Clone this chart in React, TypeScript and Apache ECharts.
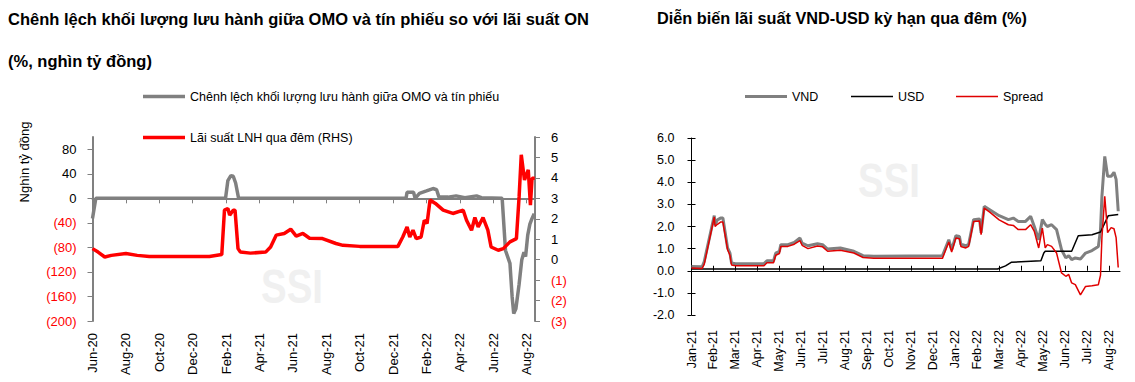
import React, { useEffect, useRef } from 'react';
import * as echarts from 'echarts';

const FONT = '"Liberation Sans", Arial, sans-serif';

// ---------- Left chart data ----------
const leftTickLabels = ['Jun-20', 'Aug-20', 'Oct-20', 'Dec-20', 'Feb-21', 'Apr-21', 'Jun-21', 'Aug-21', 'Oct-21', 'Dec-21', 'Feb-22', 'Apr-22', 'Jun-22', 'Aug-22'];
const OMO_NAME = 'Chênh lệch khối lượng lưu hành giữa OMO và tín phiếu';
const ON_NAME = 'Lãi suất LNH qua đêm (RHS)';

const omoDates = ['2020-06-01', '2020-06-07', '2021-01-31', '2021-02-04', '2021-02-09', '2021-02-13', '2021-02-17', '2021-02-22', '2021-12-25', '2021-12-27', '2022-01-08', '2022-01-11', '2022-01-19', '2022-02-01', '2022-02-12', '2022-02-18', '2022-02-22', '2022-03-10', '2022-03-25', '2022-04-10', '2022-05-01', '2022-05-10', '2022-06-17', '2022-06-23', '2022-07-01', '2022-07-05', '2022-07-08', '2022-07-12', '2022-07-18', '2022-07-23', '2022-07-27', '2022-07-30', '2022-08-03', '2022-08-07', '2022-08-10', '2022-08-15'];
const omoValues = [-33, 0, 0, 29, 37, 36, 25, 0, 0, 10, 10, 0, 8, 12, 16, 14, 2, 2, 4, 1, 4, 1, 0, -85, -106, -160, -188, -180, -140, -100, -88, -95, -60, -42, -35, -25];

const onDates = ['2020-06-01', '2020-06-11', '2020-06-23', '2020-07-05', '2020-08-01', '2020-08-22', '2020-09-13', '2020-11-01', '2021-01-01', '2021-01-24', '2021-01-29', '2021-02-04', '2021-02-07', '2021-02-13', '2021-02-16', '2021-02-21', '2021-02-25', '2021-03-15', '2021-04-12', '2021-04-21', '2021-05-01', '2021-05-16', '2021-05-28', '2021-06-07', '2021-06-19', '2021-07-01', '2021-07-25', '2021-08-19', '2021-09-01', '2021-10-01', '2021-12-10', '2021-12-19', '2021-12-27', '2022-01-01', '2022-01-07', '2022-01-13', '2022-01-22', '2022-01-28', '2022-02-02', '2022-02-07', '2022-02-16', '2022-03-01', '2022-03-19', '2022-04-07', '2022-04-13', '2022-04-22', '2022-04-28', '2022-05-04', '2022-05-13', '2022-05-22', '2022-05-28', '2022-06-10', '2022-06-19', '2022-07-01', '2022-07-13', '2022-07-18', '2022-07-22', '2022-07-28', '2022-08-04', '2022-08-08', '2022-08-11', '2022-08-16'];
const onValues = [0.54, 0.37, 0.13, 0.21, 0.3, 0.21, 0.16, 0.15, 0.16, 0.25, 2.42, 2.5, 2.18, 2.42, 2.42, 0.54, 0.37, 0.32, 0.37, 0.62, 1.2, 1.28, 1.49, 1.15, 1.28, 1.05, 1.03, 0.79, 0.7, 0.65, 0.65, 1.11, 1.6, 1.11, 1.44, 1.03, 1.11, 1.93, 1.77, 2.92, 2.75, 2.42, 2.26, 2.42, 1.93, 1.44, 2.06, 1.6, 2.06, 1.44, 0.62, 0.46, 0.54, 0.87, 1.03, 3.08, 5.13, 3.9, 4.39, 2.67, 3.98, 3.98];

// ---------- Right chart data ----------
const rightTickLabels = ['Jan-21', 'Feb-21', 'Mar-21', 'Apr-21', 'May-21', 'Jun-21', 'Jul-21', 'Aug-21', 'Sep-21', 'Oct-21', 'Nov-21', 'Dec-21', 'Jan-22', 'Feb-22', 'Mar-22', 'Apr-22', 'May-22', 'Jun-22', 'Jul-22', 'Aug-22'];

const rateDates = ['2021-01-01', '2021-01-16', '2021-01-19', '2021-02-02', '2021-02-03', '2021-02-06', '2021-02-10', '2021-02-13', '2021-02-19', '2021-02-22', '2021-02-24', '2021-03-01', '2021-04-10', '2021-04-14', '2021-04-23', '2021-04-26', '2021-05-01', '2021-05-03', '2021-05-13', '2021-05-22', '2021-05-30', '2021-06-02', '2021-06-10', '2021-06-23', '2021-06-30', '2021-07-07', '2021-07-25', '2021-08-13', '2021-08-26', '2021-09-10', '2021-12-14', '2021-12-23', '2021-12-27', '2022-01-02', '2022-01-07', '2022-01-09', '2022-01-16', '2022-01-20', '2022-01-27', '2022-02-04', '2022-02-06', '2022-02-10', '2022-02-17', '2022-03-01', '2022-03-14', '2022-03-21', '2022-03-28', '2022-04-07', '2022-04-14', '2022-04-19', '2022-04-25', '2022-04-30', '2022-05-04', '2022-05-07', '2022-05-13', '2022-05-20', '2022-05-27', '2022-06-02', '2022-06-06', '2022-06-10', '2022-06-15', '2022-06-22', '2022-06-29', '2022-07-08', '2022-07-17', '2022-07-20', '2022-07-22', '2022-07-26', '2022-07-30', '2022-08-04', '2022-08-08', '2022-08-11', '2022-08-14'];
const vndValues = [0.19, 0.18, 0.42, 2.49, 2.08, 2.3, 2.38, 2.38, 1.03, 0.8, 0.35, 0.32, 0.32, 0.45, 0.45, 0.8, 0.88, 1.18, 1.18, 1.28, 1.48, 1.25, 1.13, 1.22, 1.18, 0.98, 1.03, 0.88, 0.68, 0.65, 0.68, 1.4, 0.95, 1.58, 1.55, 1.2, 1.13, 1.2, 2.31, 2.34, 1.71, 2.91, 2.76, 2.49, 2.31, 2.38, 2.23, 2.23, 2.46, 2.0, 1.4, 2.31, 2.1, 2.0, 2.08, 1.86, 0.95, 0.58, 0.68, 0.5, 0.58, 0.53, 0.8, 0.91, 1.1, 1.86, 3.36, 5.17, 4.27, 4.27, 4.45, 4.13, 2.69];
const spreadValues = [0.12, 0.1, 0.3, 2.43, 2.0, 2.1, 2.2, 2.2, 0.95, 0.7, 0.26, 0.23, 0.23, 0.36, 0.36, 0.7, 0.78, 1.1, 1.1, 1.2, 1.36, 1.15, 1.0, 1.12, 1.08, 0.88, 0.93, 0.8, 0.6, 0.56, 0.56, 1.3, 0.85, 1.48, 1.45, 1.1, 1.03, 1.1, 2.23, 2.25, 1.63, 2.83, 2.65, 2.3, 2.08, 2.05, 1.86, 1.86, 2.08, 1.78, 1.03, 1.93, 1.03, 1.18, 1.1, 0.8, -0.1, -0.25, -0.17, -0.55, -0.63, -1.09, -0.71, -0.68, -0.63, -0.2, 1.5, 3.36, 1.72, 1.95, 1.9, 1.5, 0.15];

const usdDates = ['2021-01-01', '2022-02-27', '2022-03-10', '2022-03-18', '2022-04-28', '2022-05-02', '2022-05-04', '2022-06-10', '2022-06-19', '2022-07-08', '2022-07-20', '2022-07-31', '2022-08-14'];
const usdValues = [0.08, 0.08, 0.22, 0.38, 0.45, 0.8, 0.88, 0.88, 1.58, 1.63, 1.75, 2.49, 2.54];

// month offset from a base month (fractional)
function monthOffset(date: string, baseYear: number, baseMonth: number): number {
  const [y, m, d] = date.split('-').map(Number);
  const dim = new Date(y, m, 0).getDate();
  return (y - baseYear) * 12 + (m - baseMonth) + (d - 1) / dim;
}
function pairs(dates: string[], values: number[], by: number, bm: number) {
  return dates.map((d, i) => [monthOffset(d, by, bm), values[i]]);
}

const GRAY = '#808080';
const RED = '#ff0000';
const RED2 = '#e00000';

const paren = (v: number) => (v < 0 ? `(${-v})` : `${v}`);
const negColor = (v: any) => (Number(v) < 0 ? RED : '#000000');

function range(a: number, b: number, step: number) {
  const out: number[] = [];
  for (let v = a; v <= b + 1e-9; v += step) out.push(v);
  return out;
}

function legendItem(name: string, left: number, top: number, h: number) {
  return {
    data: [name], left, top, padding: 0, icon: 'rect', itemWidth: 42, itemHeight: h,
    textStyle: { fontFamily: FONT, fontSize: 12.5, color: '#000' },
  };
}

export default function App() {
  const ref = useRef<HTMLDivElement>(null);
  useEffect(() => {
    if (!ref.current) return;
    const chart = echarts.init(ref.current, undefined, { renderer: 'svg' });
    const lbl = { fontFamily: FONT, fontSize: 12.5 };
    const titleStyle = { fontFamily: FONT, fontSize: 16.5, fontWeight: 'bold', color: '#000' };
    const option: any = {
      animation: false,
      textStyle: { fontFamily: FONT },
      title: [
        { text: 'Chênh lệch khối lượng lưu hành giữa OMO và tín phiếu so với lãi suất ON', left: 8, top: 10, padding: 0, textStyle: titleStyle },
        { text: '(%, nghìn tỷ đồng)', left: 8, top: 52, padding: 0, textStyle: titleStyle },
        { text: 'Diễn biến lãi suất VND-USD kỳ hạn qua đêm (%)', left: 657, top: 10, padding: 0, textStyle: { ...titleStyle, fontSize: 16.3 } },
      ],
      legend: [
        legendItem(OMO_NAME, 143, 90, 3.5),
        legendItem(ON_NAME, 143, 131, 3.5),
        legendItem('VND', 745, 90, 3),
        legendItem('USD', 851, 90, 1.5),
        legendItem('Spread', 956, 90, 1.5),
      ],
      grid: [
        { left: 92.5, top: 137, width: 442.5, height: 184, containLabel: false, outerBoundsMode: 'none' },
        { left: 691.5, top: 138, width: 428.5, height: 177, containLabel: false, outerBoundsMode: 'none' },
      ],
      xAxis: [
        {
          gridIndex: 0, type: 'value', min: 0, max: 26.5, interval: 2, position: 'bottom',
          axisLine: { show: false, onZero: false }, axisTick: { show: false }, splitLine: { show: false },
          axisLabel: {
            ...lbl, fontSize: 13, color: '#000', rotate: 90, margin: 12,
            formatter: (v: number) => { const i = Math.round(v / 2); return Math.abs(v - i * 2) < 1e-6 ? (leftTickLabels[i] ?? '') : ''; },
          },
        },
        {
          gridIndex: 0, type: 'value', min: 0, max: 26.5, interval: 2, position: 'bottom',
          axisLine: { show: true, onZero: true, onZeroAxisIndex: 0, lineStyle: { color: GRAY, width: 2 } },
          axisTick: { show: true, length: 5, lineStyle: { color: GRAY, width: 1 }, customValues: range(0, 26, 2) },
          axisLabel: { show: false }, splitLine: { show: false },
        },
        {
          gridIndex: 1, type: 'value', min: 0, max: 19.5, interval: 1, position: 'bottom',
          axisLine: { show: false, onZero: false }, axisTick: { show: false }, splitLine: { show: false },
          axisLabel: {
            ...lbl, fontSize: 12.5, color: '#000', rotate: 90, margin: 15,
            formatter: (v: number) => { const i = Math.round(v); return Math.abs(v - i) < 1e-6 ? (rightTickLabels[i] ?? '') : ''; },
          },
        },
        {
          gridIndex: 1, type: 'value', min: 0, max: 19.5, interval: 1, position: 'bottom',
          axisLine: { show: true, onZero: true, onZeroAxisIndex: 2, lineStyle: { color: '#000', width: 1 } },
          axisTick: { show: true, inside: true, length: 5, lineStyle: { color: '#000', width: 1 }, customValues: range(0, 19, 1) },
          axisLabel: { show: false }, splitLine: { show: false },
        },
      ],
      yAxis: [
        {
          gridIndex: 0, type: 'value', min: -200, max: 100, interval: 40, position: 'left',
          axisLine: { show: true, onZero: false, lineStyle: { color: GRAY, width: 2 } },
          axisTick: { show: true, length: 5, lineStyle: { color: GRAY }, customValues: range(-200, 80, 40) },
          splitLine: { show: false },
          axisLabel: { ...lbl, fontSize: 13, margin: 16, color: negColor, formatter: (v: number) => (v > 80 ? '' : paren(v)) },
        },
        {
          gridIndex: 0, type: 'value', min: -3, max: 6, interval: 1, position: 'right',
          axisLine: { show: true, onZero: false, lineStyle: { color: GRAY, width: 2 } },
          axisTick: { show: true, length: 5, lineStyle: { color: GRAY } },
          splitLine: { show: false },
          axisLabel: { ...lbl, fontSize: 13, margin: 16, color: negColor, formatter: (v: number) => paren(v) },
        },
        {
          gridIndex: 1, type: 'value', min: -2, max: 6, interval: 1, position: 'left',
          axisLine: { show: true, onZero: false, lineStyle: { color: '#000', width: 1 } },
          axisTick: { show: true, length: 4, lineStyle: { color: '#000' } },
          splitLine: { show: false },
          axisLabel: { ...lbl, margin: 17, color: '#000', formatter: (v: number) => v.toFixed(1) },
        },
        {
          gridIndex: 1, type: 'value', min: -2, max: 6, interval: 1, position: 'left',
          axisLine: { show: false, onZero: false },
          axisTick: { show: true, inside: true, length: 4, lineStyle: { color: '#000' } },
          splitLine: { show: false }, axisLabel: { show: false },
        },
      ],
      graphic: [
        { type: 'text', x: 292, y: 286, scaleX: 0.8, z: -10, style: { text: 'SSI', fill: '#f0f0f0', font: `bold 48px ${FONT}`, textAlign: 'center', textVerticalAlign: 'middle' } },
        { type: 'text', x: 889, y: 180, scaleX: 0.8, z: -10, style: { text: 'SSI', fill: '#f0f0f0', font: `bold 48px ${FONT}`, textAlign: 'center', textVerticalAlign: 'middle' } },
        { type: 'text', x: 24, y: 162, rotation: Math.PI / 2, style: { text: 'Nghìn tỷ đồng', fill: '#000', font: `13px ${FONT}`, textAlign: 'center', textVerticalAlign: 'middle' } },
      ],
      series: [
        { name: OMO_NAME, type: 'line', xAxisIndex: 0, yAxisIndex: 0, symbol: 'none', data: pairs(omoDates, omoValues, 2020, 6), lineStyle: { color: GRAY, width: 3.5 }, itemStyle: { color: GRAY }, z: 3 },
        { name: ON_NAME, type: 'line', xAxisIndex: 0, yAxisIndex: 1, symbol: 'none', data: pairs(onDates, onValues, 2020, 6), lineStyle: { color: RED, width: 3.5 }, itemStyle: { color: RED }, z: 4 },
        { name: 'VND', type: 'line', xAxisIndex: 2, yAxisIndex: 2, symbol: 'none', data: pairs(rateDates, vndValues, 2021, 1), lineStyle: { color: GRAY, width: 3 }, itemStyle: { color: GRAY }, z: 3 },
        { name: 'USD', type: 'line', xAxisIndex: 2, yAxisIndex: 2, symbol: 'none', data: pairs(usdDates, usdValues, 2021, 1), lineStyle: { color: '#000', width: 1.5 }, itemStyle: { color: '#000' }, z: 4 },
        { name: 'Spread', type: 'line', xAxisIndex: 2, yAxisIndex: 2, symbol: 'none', data: pairs(rateDates, spreadValues, 2021, 1), lineStyle: { color: RED2, width: 1.5 }, itemStyle: { color: RED2 }, z: 5 },
      ],
    };
    chart.setOption(option);
    return () => chart.dispose();
  }, []);
  return <div ref={ref} style={{ position: 'fixed', left: 0, top: 0, width: 1135, height: 382, background: '#fff' }} />;
}
